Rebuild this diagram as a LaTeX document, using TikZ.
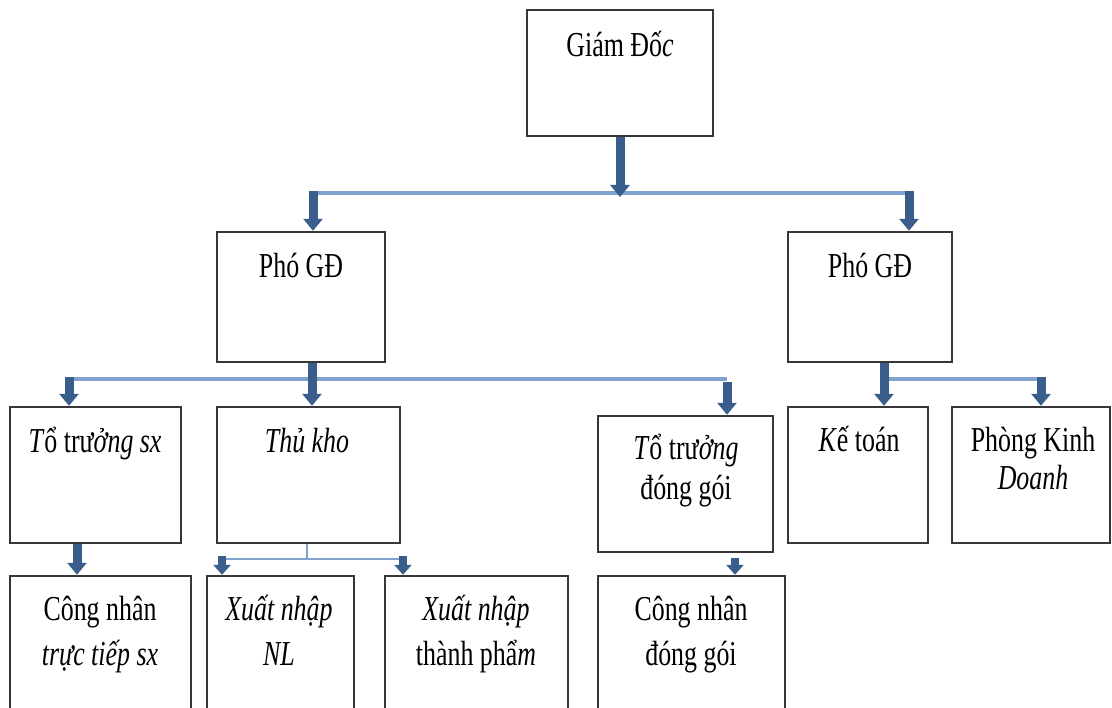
\documentclass[tikz,border=0pt]{standalone}
\usepackage{fontspec}
\setmainfont{Liberation Serif}[FakeStretch=0.74]
\usetikzlibrary{arrows.meta}
\definecolor{boxline}{RGB}{55,55,55}
\definecolor{barblue}{RGB}{128,163,206}
\definecolor{arrblue}{RGB}{58,94,140}
\begin{document}
\begin{tikzpicture}[x=1pt,y=-1pt,
  box/.style={draw=boxline,line width=2.4pt,fill=white,inner sep=0pt,rectangle},
  lbl/.style={anchor=base,inner sep=0pt,font=\fontsize{35}{40}\selectfont},
  bar/.style={draw=barblue,line width=3.5pt},
  thinbar/.style={draw=barblue,line width=2.5pt},
  arr/.style={draw=arrblue,line width=9pt,-{Triangle[width=19pt,length=12pt]}},
  sarr/.style={draw=arrblue,line width=8pt,-{Triangle[width=17pt,length=10pt]}}]
\fill[white] (0,0) rectangle (1112,708);
\useasboundingbox (0,0) rectangle (1112,708);
\clip (0,0) rectangle (1112,708);

% boxes
\node[box,minimum width=186pt,minimum height=126pt] (gd)   at (620,73) {};
\node[box,minimum width=168pt,minimum height=130pt] (pgd1) at (301,297) {};
\node[box,minimum width=164pt,minimum height=130pt] (pgd2) at (870,297) {};
\node[box,minimum width=171pt,minimum height=136pt] (tt1)  at (95.5,475) {};
\node[box,minimum width=183pt,minimum height=136pt] (tk)   at (308.5,475) {};
\node[box,minimum width=175pt,minimum height=136pt] (tt2)  at (685.5,484) {};
\node[box,minimum width=140pt,minimum height=136pt] (kt)   at (858,475) {};
\node[box,minimum width=158pt,minimum height=136pt] (pkd)  at (1031,475) {};
\node[box,minimum width=181pt,minimum height=144pt] (cn1)  at (100.5,648) {};
\node[box,minimum width=147pt,minimum height=144pt] (xn1)  at (280.5,648) {};
\node[box,minimum width=183pt,minimum height=144pt] (xn2)  at (476.5,648) {};
\node[box,minimum width=187pt,minimum height=144pt] (cn2)  at (691.5,648) {};

% labels
\node[lbl] (gdt)   at (620,57)  {Giám Đố\textit{c}};
\node[lbl] (pgd1t) at (301,278) {Phó GĐ};
\node[lbl] (pgd2t) at (870,278) {Phó GĐ};
\node[lbl] (tt1t)  at (95,453)  {\textit{T}ổ trư\textit{ởng sx}};
\node[lbl] (tkt)   at (307,453) {\textit{Thủ kho}};
\node[lbl] (tt2a)  at (686,460) {\textit{T}ổ trư\textit{ởng}};
\node[lbl] (tt2b)  at (686,500) {đóng gói};
\node[lbl] (ktt)   at (859,452) {\textit{K}ế toán};
\node[lbl] (pkda)  at (1033,452) {Phòng Kinh};
\node[lbl] (pkdb)  at (1033,490) {\textit{Doanh}};
\node[lbl] (cn1a)  at (100,620) {Công nhân};
\node[lbl] (cn1b)  at (100,665) {\textit{trực tiếp sx}};
\node[lbl] (xn1a)  at (279,620) {\textit{Xuất nhập}};
\node[lbl] (xn1b)  at (279,665) {\textit{NL}};
\node[lbl] (xn2a)  at (476,620) {\textit{Xuất nhập}};
\node[lbl] (xn2b)  at (476,665) {thành phẩ\textit{m}};
\node[lbl] (cn2a)  at (691,620) {Công nhân};
\node[lbl] (cn2b)  at (691,665) {đóng gói};

% junction points on the distribution bars
\coordinate (b1m) at (620,193);
\coordinate (b1l) at (313,193);
\coordinate (b1r) at (909,193);
\coordinate (b2l) at (69,379);
\coordinate (b2m) at (312,379);
\coordinate (b2r) at (727,379);
\coordinate (b3l) at (884,379);
\coordinate (b3r) at (1041,379);
\coordinate (b4m) at (307,559);
\coordinate (b4l) at (222,559);
\coordinate (b4r) at (403,559);

% bars
\draw[bar] (b1l) -- (b1r);
\draw[bar] (b2l) -- (b2r);
\draw[bar] (b3l) -- (b3r);
\draw[thinbar] (tk.south -| b4m) -- (b4m);
\draw[thinbar] (b4l) -- (b4r);

% arrows (y axis points down: a positive yshift moves a point up)
\draw[arr] (gd.south -| b1m) -- ([yshift=-4pt]b1m);
\draw[arr] ([yshift=2pt]b1l) -- (pgd1.north -| b1l);
\draw[arr] ([yshift=2pt]b1r) -- (pgd2.north -| b1r);
\draw[arr] (pgd1.south -| b2m) -- (tk.north -| b2m);
\draw[arr] ([yshift=2pt]b2l) -- (tt1.north -| b2l);
\draw[arr] ([yshift=-3pt]b2r) -- (tt2.north -| b2r);
\draw[arr] (pgd2.south -| b3l) -- (kt.north -| b3l);
\draw[arr] ([yshift=2pt]b3r) -- (pkd.north -| b3r);
\draw[arr] (tt1.south -| 77,0) -- (cn1.north -| 77,0);
\draw[sarr] ([yshift=3pt]b4l) -- (xn1.north -| b4l);
\draw[sarr] ([yshift=3pt]b4r) -- (xn2.north -| b4r);
\draw[sarr] ([yshift=-5pt]tt2.south -| 735,0) -- (cn2.north -| 735,0);
\end{tikzpicture}
\end{document}
